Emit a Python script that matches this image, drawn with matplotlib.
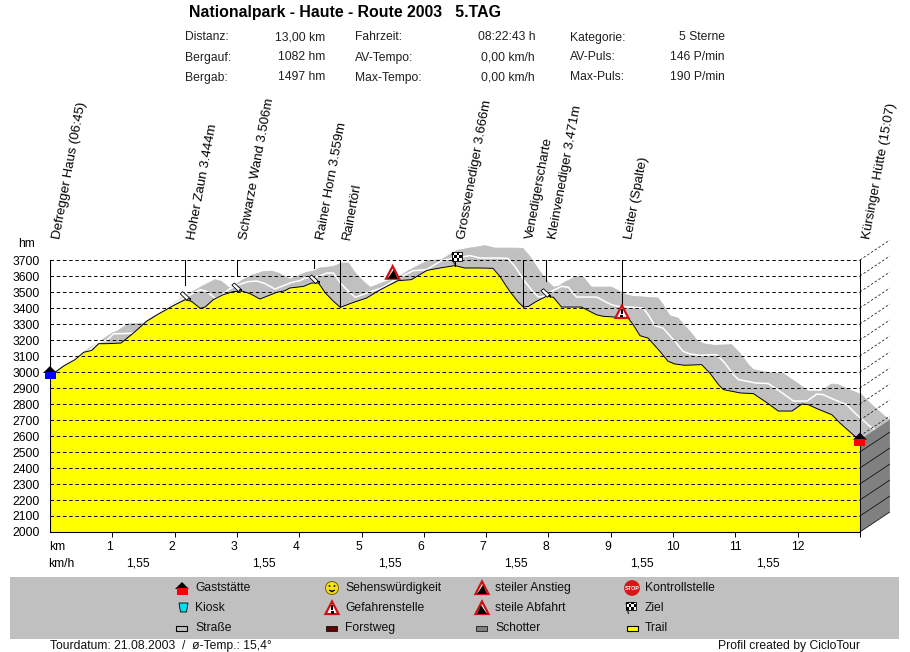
import matplotlib
matplotlib.use("Agg")
import matplotlib.pyplot as plt
import numpy as np
from matplotlib.patches import Polygon, Rectangle, Circle
from matplotlib.transforms import IdentityTransform

plt.rcParams["font.family"] = ["Liberation Sans", "DejaVu Sans"]

# ---------------------------------------------------
# data
km = [0.00, 0.21, 0.40, 0.54, 0.67, 0.78, 0.91, 1.14, 1.34, 1.55, 1.77, 1.98, 2.17, 2.27,
      2.41, 2.49, 2.62, 2.78, 2.94, 3.08, 3.21, 3.37, 3.48, 3.64, 3.77, 3.85, 4.07, 4.20,
      4.31, 4.42, 4.55, 4.66, 4.87, 5.08, 5.30, 5.46, 5.59, 5.80, 6.05, 6.26, 6.50, 6.66,
      6.90, 7.11, 7.22, 7.38, 7.52, 7.60, 7.68, 7.81, 7.97, 8.08, 8.21, 8.53, 8.77, 8.88,
      9.04, 9.28, 9.36, 9.47, 9.60, 9.79, 9.92, 10.03, 10.19, 10.46, 10.59, 10.73, 10.81,
      11.08, 11.29, 11.53, 11.69, 11.91, 12.07, 12.17, 12.31, 12.55, 12.68, 12.92, 13.00]
elev = [2975, 3035, 3077, 3123, 3135, 3177, 3177, 3181, 3244, 3317, 3369, 3415, 3452, 3442,
        3398, 3406, 3452, 3483, 3502, 3506, 3490, 3456, 3473, 3498, 3508, 3525, 3535, 3556,
        3556, 3494, 3442, 3404, 3435, 3462, 3514, 3546, 3571, 3577, 3635, 3650, 3665, 3650,
        3650, 3648, 3598, 3504, 3435, 3406, 3410, 3442, 3473, 3467, 3406, 3406, 3358, 3348,
        3344, 3337, 3296, 3227, 3212, 3129, 3067, 3050, 3042, 3046, 2994, 2921, 2890,
        2869, 2865, 2802, 2756, 2756, 2800, 2796, 2771, 2733, 2681, 2598, 2577]
hm_ticks = list(range(2000, 3800, 100))
km_ticks = list(range(1, 13))

way_names = ["Defregger Haus (06:45)", "Hoher Zaun 3.444m", "Schwarze Wand 3.506m",
             "Rainer Horn 3.559m", "Rainertörl", "Grossvenediger 3.666m", "Venedigerscharte",
             "Kleinvenediger 3.471m", "Leiter (Spalte)", "Kürsinger Hütte (15:07)"]
way_km = [0.0, 2.17, 3.0, 4.24, 4.66, 6.50, 7.60, 7.96, 9.18, 13.0]
way_low = [2000, 3546, 3598, 3650, 3404, 3665, 3406, 3567, 3344, 2000]

speed_km = [1.41, 3.43, 5.46, 7.48, 9.50, 11.52]
speed_lab = ["1,55"] * 6

head_labels = [["Distanz:", "Bergauf:", "Bergab:"],
               ["Fahrzeit:", "AV-Tempo:", "Max-Tempo:"],
               ["Kategorie:", "AV-Puls:", "Max-Puls:"]]
head_values = [["13,00 km", "1082 hm", "1497 hm"],
               ["08:22:43 h", "0,00 km/h", "0,00 km/h"],
               ["5 Sterne", "146 P/min", "190 P/min"]]

km = np.array(km)
elev = np.array(elev)

W, H = 910, 652
DX_KM = 30 / 62.3   # depth of the 3d band
DY_HM = 125
FS = 8.7

fig = plt.figure(figsize=(W / 100, H / 100), dpi=100, facecolor="white")
ax = fig.add_axes([50 / W, (H - 532) / H, 840 / W, 292 / H])
ax.set_xlim(0, 840 / 62.3)
ax.set_ylim(2000, 3825)
ax.patch.set_alpha(0)
for s in ax.spines.values():
    s.set_visible(False)

# ---------------------------------------------------
# band behind the profile
GRAY = "#c0c0c0"
for i in range(len(km) - 1):
    ax.add_patch(Polygon([(km[i], elev[i]), (km[i + 1], elev[i + 1]),
                          (km[i + 1] + DX_KM, elev[i + 1] + DY_HM),
                          (km[i] + DX_KM, elev[i] + DY_HM)],
                         fc=GRAY, ec=GRAY, lw=0.5, zorder=1))
ax.plot(km + DX_KM / 2, elev + DY_HM / 2, color="white", lw=1.1, zorder=1.5)

# right wall
ax.add_patch(Polygon([(13, 2000), (13, elev[-1]), (13 + DX_KM, elev[-1] + DY_HM),
                      (13 + DX_KM, 2000 + DY_HM)], fc="#808080", ec="none", zorder=1.6))

ax.fill_between(km, 2000, elev, color="#ffff00", lw=0, zorder=2)
ax.plot(km, elev, color="black", lw=0.7, zorder=4)

# grid
dash = (0, (3.6, 2.8))
for v in hm_ticks[1:]:
    ax.plot([0, 13], [v, v], color="black", lw=0.7, ls=dash, zorder=3)
for v in hm_ticks:
    st = "-" if v < elev[-1] else dash
    ax.plot([13, 13 + DX_KM], [v, v + DY_HM], color="black", lw=0.5, ls=st, zorder=3)
ax.plot([13 + DX_KM, 13 + DX_KM], [elev[-1] + DY_HM, 3700 + DY_HM], color="black", lw=0.5, ls=(0, (2, 2)), zorder=3)
ax.plot([13 + DX_KM, 13 + DX_KM], [2000 + DY_HM, elev[-1] + DY_HM], color="#404040", lw=0.7, zorder=3)
ax.plot([0, 13], [2000, 2000], color="black", lw=0.8, zorder=4, clip_on=False)
ax.plot([0, 0], [2000, 3700], color="black", lw=0.8, zorder=4)

ax.set_xticks(km_ticks + [13])
ax.set_xticklabels([])
ax.tick_params(axis="x", length=3.5, width=0.7)
ax.set_yticks(hm_ticks)
ax.set_yticklabels([str(v) for v in hm_ticks], fontsize=FS)
ax.tick_params(axis="y", length=0, pad=7.2)

# way points
for name, x, low in zip(way_names, way_km, way_low):
    ax.plot([x, x], [low, 3700], color="black", lw=0.75, zorder=5)
    ax.annotate(name, (x, 3825), xytext=(7, 1), textcoords="offset pixels", rotation=79.5,
                rotation_mode="anchor", ha="left", va="center", fontsize=9.5, annotation_clip=False)

# ---------------------------------------------------
# icons, drawn in pixels with y counted from the top
px = IdentityTransform()


def patch(p):
    p.set_transform(px)
    p.set_zorder(7)
    p.set_clip_on(False)
    fig.add_artist(p)


def poly(pts, fc, ec="none", lw=0.0):
    patch(Polygon([(x, H - y) for x, y in pts], fc=fc, ec=ec, lw=lw))


def rect(x0, y0, x1, y1, fc, ec="none", lw=0.0):
    patch(Rectangle((x0, H - y1), x1 - x0, y1 - y0, fc=fc, ec=ec, lw=lw))


def house(x, y, col):
    poly([(x - 7, y + 1), (x + 7, y + 1), (x, y - 6)], "black")
    rect(x - 5.5, y, x + 5.5, y + 7, col)


def warn(x, y, kind):
    # y is the baseline of the triangle
    poly([(x - 6.5, y), (x + 6.5, y), (x, y - 12.5)], "white", "#d01010", 1.6)
    if kind == "up":
        poly([(x - 5, y), (x + 5, y), (x + 1, y - 9)], "black")
    elif kind == "down":
        poly([(x - 5, y), (x + 5, y), (x - 1, y - 9)], "black")
    else:
        rect(x - 1, y - 9, x + 1, y - 4, "black")
        rect(x - 1.5, y - 3, x + 1.5, y - 0.5, "black")


def pin(x, y):
    poly([(x - 8, y - 7), (x - 5.5, y - 9), (x + 1, y - 3), (x - 1.5, y - 0.5)], "white", "black", 0.6)
    poly([(x - 0.5, y - 3), (x + 2.5, y - 3), (x + 2.5, y)], "black")


def flag(x, y):
    # x, y is the foot of the pole
    poly([(x - 1, y), (x - 3.5, y - 11), (x - 2.5, y - 11), (x, y)], "black")
    rect(x - 3, y - 12.5, x + 7, y - 4, "white", "black", 0.6)
    for i in range(4):
        for j in range(3):
            if (i + j) % 2 == 0:
                rect(x - 3 + i * 2.5, y - 12.5 + j * 2.8, x - 0.5 + i * 2.5, y - 9.7 + j * 2.8, "black")


def to_px(k, e):
    dx, dy = ax.transData.transform((k, e))
    return dx, H - dy


x0, y0 = to_px(km[0], 3000)
house(x0, y0, "#0000ff")
x0, y0 = to_px(km[-1], elev[-1])
house(x0, y0 - 1, "#ff0000")
for k, e in [(2.17, 3452), (3.0, 3506), (4.24, 3556), (7.96, 3470)]:
    x0, y0 = to_px(k, e)
    pin(x0 + 3, y0 + 1)
x0, y0 = to_px(5.5, 3577)
warn(x0, y0 - 1, "up")
x0, y0 = to_px(9.18, 3344)
warn(x0, y0 + 1, "x")
x0, y0 = to_px(6.5, 3665)
flag(x0, y0 - 1)

# ---------------------------------------------------
# texts on the whole page
page = fig.add_axes([0, 0, 1, 1], zorder=-1)
page.set_xlim(0, W)
page.set_ylim(H, 0)
page.axis("off")

page.text(189, 13, "Nationalpark - Haute - Route 2003   5.TAG", fontsize=11.4, fontweight="bold", va="center")
col_left = [185, 355, 570]
col_right = [325, 535, 725]
for c in range(3):
    for r in range(3):
        y = 37.5 + 20 * r
        page.text(col_left[c], y, head_labels[c][r], fontsize=FS, va="center", color="#202020")
        page.text(col_right[c], y, head_values[c][r], fontsize=FS, va="center", ha="right", color="#202020")

page.text(18, 244, "hm", fontsize=FS, va="center")
page.text(49, 547, "km", fontsize=FS, va="center")
page.text(48, 564, "km/h", fontsize=FS, va="center")
for k in km_ticks:
    # single digits sit a little left of their tick in the original
    shift = -3 if k < 10 else 0
    page.text(to_px(k, 2000)[0] + shift, 547, str(k), fontsize=FS, va="center", ha="center")
for k, lab in zip(speed_km, speed_lab):
    page.text(to_px(k, 2000)[0], 564, lab, fontsize=FS, va="center", ha="center")

page.add_patch(Rectangle((10, 577), 889, 62, fc=GRAY, ec="none"))

legend_rows = [588, 608, 628]
legend_cols = [195, 345, 495, 645]
legend_text = [["Gaststätte", "Kiosk", "Straße"],
               ["Sehenswürdigkeit", "Gefahrenstelle", "Forstweg"],
               ["steiler Anstieg", "steile Abfahrt", "Schotter"],
               ["Kontrollstelle", "Ziel", "Trail"]]
for c in range(4):
    for r in range(3):
        page.text(legend_cols[c], legend_rows[r], legend_text[c][r], fontsize=FS, va="center", color="#101010")

house(182, 588, "#ff0000")
poly([(179, 603), (188, 603), (186.5, 612), (180.5, 612)], "#00e0f0", "black", 0.6)
rect(176, 626, 187, 631, GRAY, "black", 0.8)

patch(Circle((332, H - 588), 6.5, fc="#f0e020", ec="#806000", lw=0.7))
patch(Circle((329.5, H - 586), 0.9, fc="black"))
patch(Circle((334.5, H - 586), 0.9, fc="black"))
poly([(329, 590), (332, 592), (335, 590), (332, 591)], "black", "black", 0.6)
warn(332, 614, "x")
rect(326, 626, 337, 631, "#600000", "black", 0.5)

warn(482, 594, "up")
warn(482, 614, "down")
rect(476, 626, 487, 631, "#808080", "black", 0.5)

patch(Circle((632, H - 588), 7.2, fc="#d81818", ec="#d81818"))
fig.text(632 / W, (H - 588) / H, "STOP", fontsize=4, color="white", fontweight="bold", ha="center", va="center", zorder=8)
flag(629, 614)
rect(627, 626, 638, 631, "#ffff00", "black", 0.8)

page.text(50, 646, "Tourdatum: 21.08.2003  /  ø-Temp.: 15,4°", fontsize=FS, va="center", color="#101010")
page.text(860, 646, "Profil created by CicloTour", fontsize=FS, va="center", ha="right", color="#101010")

fig.savefig("out.png", dpi=100, facecolor="white")
